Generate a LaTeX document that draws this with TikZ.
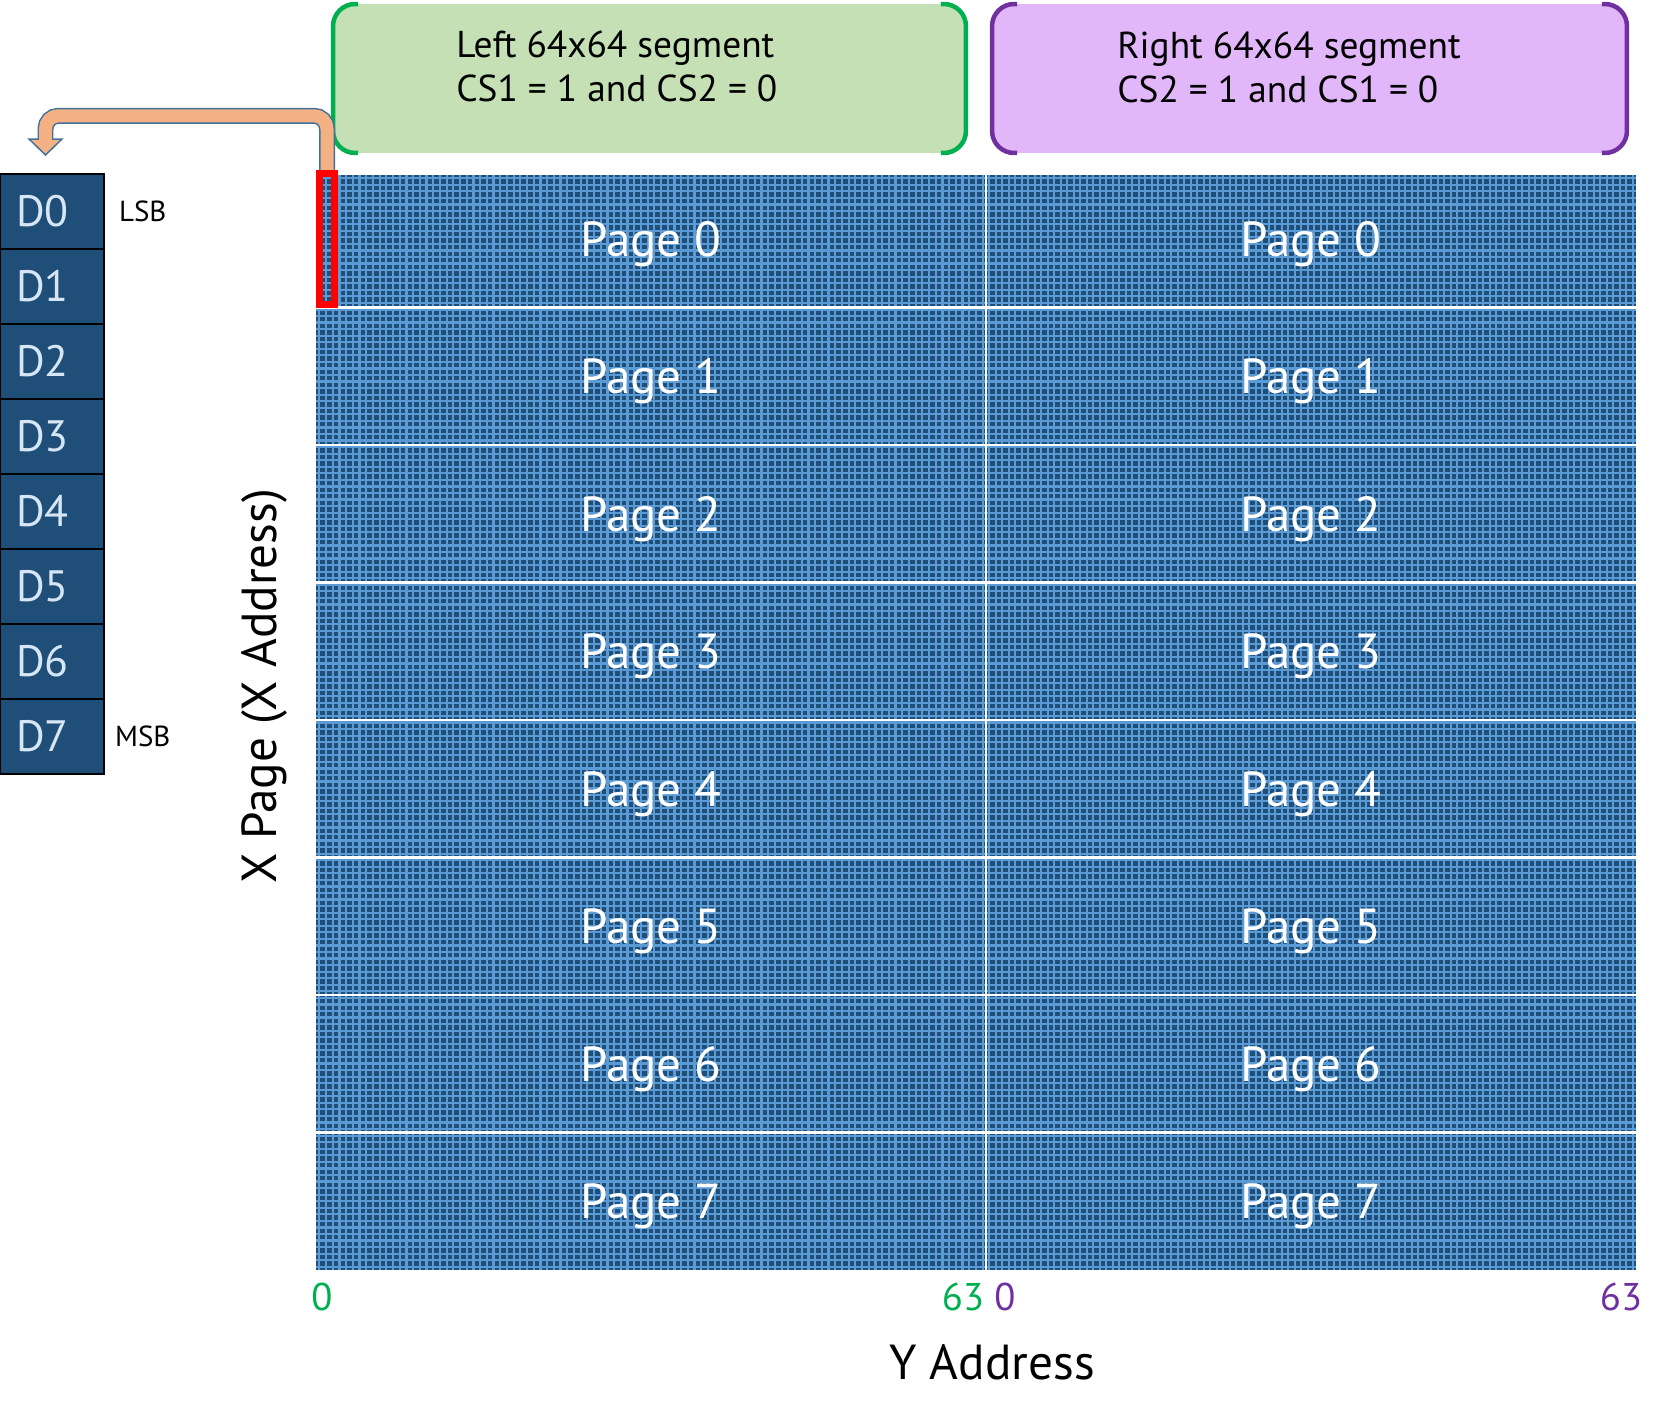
\documentclass[tikz,border=0pt]{standalone}
\usepackage{fontspec}
\setmainfont{PT Sans}
\usetikzlibrary{positioning}
\definecolor{cellblue}{HTML}{1F4E79}
\definecolor{lineblue}{HTML}{5B9BD5}
\definecolor{bittext}{HTML}{D6E6F5}
\definecolor{leftgreen}{HTML}{00B050}
\definecolor{leftfill}{HTML}{C5E0B4}
\definecolor{rightpurple}{HTML}{7030A0}
\definecolor{rightfill}{HTML}{E1B7F9}
\definecolor{arrowfill}{HTML}{F4B183}
\definecolor{arrowline}{HTML}{41719C}
\begin{document}
\begin{tikzpicture}[x=0.02cm,y=-0.02cm,
  cellline/.style={lineblue, line width=0.044cm},
  pageline/.style={white, line width=0.05cm},
  pagelabel/.style={text=white, font=\fontsize{28}{34}\selectfont},
  bit/.style={draw=black, line width=0.03cm, fill=cellblue, text=bittext,
    minimum height=1.5cm, text width=1.44cm, inner xsep=0.32cm, align=left,
    font=\fontsize{25}{30}\selectfont},
  bitnote/.style={inner sep=0pt, font=\fontsize{16.5}{20}\selectfont},
  segbox/.style={minimum height=2.98cm, rounded corners=0.44cm, inner sep=0pt, outer sep=0pt},
  bracket/.style={line width=0.09cm, rounded corners=0.44cm},
  seglabel/.style={align=left, inner sep=0pt, font=\fontsize{21.3}{25}\selectfont},
  axisnum/.style={inner sep=0pt, font=\fontsize{22}{26}\selectfont},
  axislabel/.style={inner sep=0pt, font=\fontsize{28}{34}\selectfont},
  shaftline/.style={arrowline, line width=0.32cm, rounded corners=0.26cm},
  shaftfill/.style={arrowfill, line width=0.26cm, rounded corners=0.26cm},
  headfill/.style={fill=arrowfill, draw=arrowline, line width=0.03cm}]
\useasboundingbox (0,0) rectangle (1665,1423);
% chip segments
\node[segbox, fill=leftfill, minimum width=12.66cm] (leftseg) at (649.5,78.5) {};
\node[segbox, fill=rightfill, minimum width=12.7cm] (rightseg) at (1309.5,78.5) {};
\draw[bracket, leftgreen] ([xshift=0.5cm]leftseg.north west) -- (leftseg.north west) -- (leftseg.south west) -- ([xshift=0.5cm]leftseg.south west);
\draw[bracket, leftgreen] ([xshift=-0.5cm]leftseg.north east) -- (leftseg.north east) -- (leftseg.south east) -- ([xshift=-0.5cm]leftseg.south east);
\draw[bracket, rightpurple] ([xshift=0.5cm]rightseg.north west) -- (rightseg.north west) -- (rightseg.south west) -- ([xshift=0.5cm]rightseg.south west);
\draw[bracket, rightpurple] ([xshift=-0.5cm]rightseg.north east) -- (rightseg.north east) -- (rightseg.south east) -- ([xshift=-0.5cm]rightseg.south east);
\node[seglabel, anchor=west] (lefttext) at (456,66) {Left 64x64 segment\\CS1 = 1 and CS2 = 0};
\node[seglabel, anchor=west] (righttext) at (1117,67) {Right 64x64 segment\\CS2 = 1 and CS1 = 0};
% pixel grid
\fill[cellblue] (316,175) rectangle (1636,1270);
\foreach \i in {0,...,99} {
  \draw[cellline] ({319.35+6.7*\i},175) -- ++(0,1095);
  \draw[cellline] ({989.25+6.5*\i},175) -- ++(0,1095);
}
\foreach \j in {0,...,166}
  \draw[cellline] (316,{178.28+6.557*\j}) -- (1636,{178.28+6.557*\j});
\foreach \k in {1,...,7}
  \draw[pageline] (316,{170+137.5*\k}) -- (1636,{170+137.5*\k});
\draw[pageline] (986,175) -- (986,1270);
\foreach \k in {0,...,7} {
  \node[pagelabel] (L\k) at (651,{244+137.5*\k}) {Page \k};
  \node[pagelabel] (R\k) at (1311,{244+137.5*\k}) {Page \k};
}
% one column byte
\node[draw=red, line width=0.15cm, minimum width=0.3cm, minimum height=2.62cm, inner sep=0pt] (sel) at (327,239) {};
\coordinate (head) at (45.5,139);
\coordinate (tip) at (45.5,155);
\draw[shaftline] (sel.north) -- ++(0,-54) -| (head);
\filldraw[headfill] ([xshift=-0.33cm]head) -- ([xshift=0.33cm]head) -- (tip) -- cycle;
\draw[shaftfill] (sel.north) -- ++(0,-54) -| ([yshift=-0.04cm]head);
% data bits
\foreach \i in {0,...,7}
  \node[bit] (D\i) at (52,{211.5+75*\i}) {D\i};
\node[bitnote, right=0.28cm of D0] (lsb) {LSB};
\node[bitnote, right=0.2cm of D7] (msb) {MSB};
% axes
\node[axisnum, text=leftgreen] (ly0) at (322,1297) {0};
\node[axisnum, text=leftgreen] (ly63) at (963,1297) {63};
\node[axisnum, text=rightpurple] (ry0) at (1005,1297) {0};
\node[axisnum, text=rightpurple] (ry63) at (1621,1297) {63};
\node[axislabel] (yaddr) at (992,1362) {Y Address};
\node[axislabel, rotate=90] (xpage) at (264,686) {X Page (X Address)};
\end{tikzpicture}
\end{document}
